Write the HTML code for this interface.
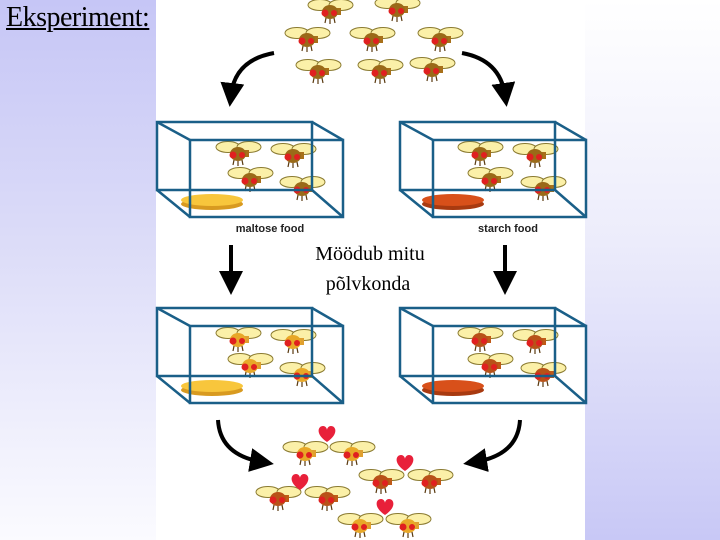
<!DOCTYPE html>
<html><head><meta charset="utf-8"><style>
html,body{margin:0;padding:0}
body{width:720px;height:540px;position:relative;overflow:hidden;background:#fff}
#l{position:absolute;left:0;top:0;width:156px;height:540px;background:linear-gradient(to bottom,#c6c6f6 0%,#dcdcf8 45%,#fbfbff 100%)}
#r{position:absolute;left:585px;top:0;width:135px;height:540px;background:linear-gradient(to bottom,#ffffff 0%,#ececfb 45%,#c8c8f6 100%)}
#t{position:absolute;left:6px;top:2px;font:28px "Liberation Serif",serif;text-decoration:underline;color:#000;letter-spacing:-0.5px}
svg{position:absolute;left:0;top:0}
</style></head><body>
<div id="l"></div><div id="r"></div>
<div id="t">Eksperiment:</div>
<svg width="720" height="540" viewBox="0 0 720 540">
<defs>
<g id="fly">
<ellipse cx="-10" cy="-5" rx="12" ry="5.5" fill="#fbf0a8" stroke="#8a7a30" stroke-width="1"/>
<ellipse cx="11" cy="-5" rx="12" ry="5.5" fill="#fbf0a8" stroke="#8a7a30" stroke-width="1"/>
<rect x="1" y="-2" width="10" height="7" fill="#a8701a"/>
<ellipse cx="0" cy="2" rx="8" ry="7" fill="#9a6a18"/>
<circle cx="-5" cy="3" r="3.5" fill="#e02020"/>
<circle cx="4" cy="3" r="3" fill="#e02020"/>
<path d="M-4 8 L-5 13 M0 9 L0 14 M4 8 L5 13" stroke="#5a3a10" stroke-width="1.2"/>
</g>
<g id="fly2">
<ellipse cx="-10" cy="-5" rx="12" ry="5.5" fill="#fbf0a8" stroke="#8a7a30" stroke-width="1"/>
<ellipse cx="11" cy="-5" rx="12" ry="5.5" fill="#fbf0a8" stroke="#8a7a30" stroke-width="1"/>
<rect x="1" y="-2" width="10" height="7" fill="#e0a030"/>
<ellipse cx="0" cy="2" rx="8" ry="7" fill="#e8a828"/>
<circle cx="-5" cy="3" r="3.5" fill="#e02020"/>
<circle cx="4" cy="3" r="3" fill="#e02020"/>
<path d="M-4 8 L-5 13 M0 9 L0 14 M4 8 L5 13" stroke="#5a3a10" stroke-width="1.2"/>
</g>
<g id="fly3">
<ellipse cx="-10" cy="-5" rx="12" ry="5.5" fill="#fbf0a8" stroke="#8a7a30" stroke-width="1"/>
<ellipse cx="11" cy="-5" rx="12" ry="5.5" fill="#fbf0a8" stroke="#8a7a30" stroke-width="1"/>
<rect x="1" y="-2" width="10" height="7" fill="#c05a18"/>
<ellipse cx="0" cy="2" rx="8" ry="7" fill="#b85218"/>
<circle cx="-5" cy="3" r="3.5" fill="#e02020"/>
<circle cx="4" cy="3" r="3" fill="#e02020"/>
<path d="M-4 8 L-5 13 M0 9 L0 14 M4 8 L5 13" stroke="#5a3a10" stroke-width="1.2"/>
</g>
<g id="box" fill="none" stroke="#1a5f88" stroke-width="2.5">
<rect x="157" y="122" width="155" height="68"/>
<rect x="190" y="140" width="153" height="77"/>
<path d="M157 122 L190 140 M312 122 L343 140 M157 190 L190 217 M312 190 L343 217"/>
</g>
<path id="heart" d="M0 6 C-12 -2 -9 -10 -4 -10 C-1 -10 0 -7 0 -6 C0 -7 1 -10 4 -10 C9 -10 12 -2 0 6Z" fill="#e8203a"/>
<marker id="ah" markerWidth="6" markerHeight="6" refX="3" refY="3" orient="auto" markerUnits="strokeWidth"><path d="M0 0 L6 3 L0 6Z" fill="#000"/></marker>
</defs>
<use href="#fly" x="330" y="10"/><use href="#fly" x="397" y="8"/>
<use href="#fly" x="307" y="38"/><use href="#fly" x="372" y="38"/><use href="#fly" x="440" y="38"/>
<use href="#fly" x="318" y="70"/><use href="#fly" x="380" y="70"/><use href="#fly" x="432" y="68"/>
<g stroke="#000" stroke-width="4" fill="none" marker-end="url(#ah)">
<path d="M274 53 Q235 60 231 95"/>
<path d="M462 53 Q500 60 505 95"/>
<path d="M231 245 L231 283"/>
<path d="M505 245 L505 283"/>
<path d="M218 420 Q220 455 262 462"/>
<path d="M520 420 Q518 455 475 462"/>
</g>
<ellipse cx="212" cy="204" rx="31" ry="6" fill="#d89a20"/><ellipse cx="212" cy="200" rx="31" ry="6" fill="#f8c63c"/>
<ellipse cx="453" cy="204" rx="31" ry="6" fill="#a83a10"/><ellipse cx="453" cy="200" rx="31" ry="6" fill="#d8501a"/>
<use href="#fly" x="238" y="152"/><use href="#fly" x="293" y="154"/><use href="#fly" x="250" y="178"/><use href="#fly" x="302" y="187"/>
<use href="#fly" x="480" y="152"/><use href="#fly" x="535" y="154"/><use href="#fly" x="490" y="178"/><use href="#fly" x="543" y="187"/>
<use href="#box"/><use href="#box" x="243"/>
<text x="270" y="232" font-family="Liberation Sans,sans-serif" font-weight="bold" font-size="11" text-anchor="middle" fill="#222">maltose food</text>
<text x="508" y="232" font-family="Liberation Sans,sans-serif" font-weight="bold" font-size="11" text-anchor="middle" fill="#222">starch food</text>
<text x="370" y="260" font-family="Liberation Serif,serif" font-size="20" text-anchor="middle">Möödub mitu</text>
<text x="368" y="290" font-family="Liberation Serif,serif" font-size="20" text-anchor="middle">põlvkonda</text>
<g transform="translate(0,186)">
<ellipse cx="212" cy="204" rx="31" ry="6" fill="#d89a20"/><ellipse cx="212" cy="200" rx="31" ry="6" fill="#f8c63c"/>
<ellipse cx="453" cy="204" rx="31" ry="6" fill="#a83a10"/><ellipse cx="453" cy="200" rx="31" ry="6" fill="#d8501a"/>
<use href="#fly2" x="238" y="152"/><use href="#fly2" x="293" y="154"/><use href="#fly2" x="250" y="178"/><use href="#fly2" x="302" y="187"/>
<use href="#fly3" x="480" y="152"/><use href="#fly3" x="535" y="154"/><use href="#fly3" x="490" y="178"/><use href="#fly3" x="543" y="187"/>
<use href="#box"/><use href="#box" x="243"/>
</g>
<use href="#fly2" x="305" y="452"/><use href="#fly2" x="352" y="452"/>
<use href="#fly3" x="381" y="480"/><use href="#fly3" x="430" y="480"/>
<use href="#fly3" x="278" y="497"/><use href="#fly3" x="327" y="497"/>
<use href="#fly2" x="360" y="524"/><use href="#fly2" x="408" y="524"/>
<use href="#heart" x="327" y="436"/><use href="#heart" x="405" y="465"/><use href="#heart" x="300" y="484"/><use href="#heart" x="385" y="509"/>
</svg>
</body></html>
